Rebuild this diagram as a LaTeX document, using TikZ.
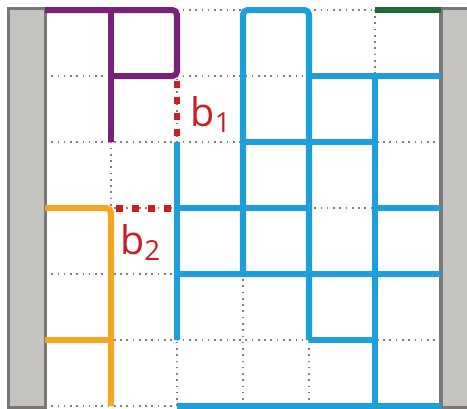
\documentclass[tikz,border=0pt]{standalone}
\usepackage{fontspec}
\setmainfont{Open Sans}
\usepackage{tikz}
\definecolor{wallGrey}{HTML}{C6C4C0}
\definecolor{wallEdge}{HTML}{787878}
\definecolor{lineGrey}{HTML}{808080}
\definecolor{roomPurple}{HTML}{7A1F7C}
\definecolor{roomBlue}{HTML}{1E9FDD}
\definecolor{roomOrange}{HTML}{F5A623}
\definecolor{roomGreen}{HTML}{1D6B35}
\definecolor{gapRed}{HTML}{C81E24}

\begin{document}
\begin{tikzpicture}[font=\fontsize{17}{19}\selectfont,
  gridline/.style={draw=lineGrey, line width=0.7pt, dotted},
  wall/.style={line width=2.6pt, rounded corners=2pt},
  gap/.style={draw=gapRed, line width=3pt, dash pattern=on 3pt off 4pt},
  bar/.style={fill=wallGrey, draw=wallEdge, line width=1.3pt},
  tag/.style={text=gapRed, inner sep=0pt}]

\useasboundingbox (-0.682,-0.03) rectangle (6.394,6.152);

% dotted grid
\foreach \y in {0,...,6}
  \draw[gridline] (0,\y) -- (6,\y);
\foreach \x in {1,...,5}
  \draw[gridline] (\x,0) -- (\x,6);

% side walls
\draw[bar] (-0.55,-0.03) rectangle (0,6.02);
\draw[bar] (6,-0.03) rectangle (6.6,6.02);

% purple
\draw[wall, roomPurple] (0,6) -- (2,6) -- (2,5) -- (1,5);
\draw[wall, roomPurple] (1,6) -- (1,4);

% green
\draw[wall, roomGreen] (5,6) -- (6,6);

% orange
\draw[wall, roomOrange] (0,3) -- (1,3) -- (1,0);
\draw[wall, roomOrange] (0,1) -- (1,1);

% blue
\draw[wall, roomBlue] (2,1) -- (2,4);
\draw[wall, roomBlue] (3,2) -- (3,6) -- (4,6) -- (4,1);
\draw[wall, roomBlue] (5,0) -- (5,5);
\draw[wall, roomBlue] (4,5) -- (6,5);
\draw[wall, roomBlue] (3,4) -- (5,4);
\draw[wall, roomBlue] (2,3) -- (4,3);
\draw[wall, roomBlue] (5,3) -- (6,3);
\draw[wall, roomBlue] (2,2) -- (6,2);
\draw[wall, roomBlue] (4,1) -- (5,1);
\draw[wall, roomBlue] (2,0) -- (6,0);

% gaps
\draw[gap, dash phase=5pt] (2,5) -- (2,4);
\draw[gap, dash phase=5pt] (1,3) -- (2,3);
\node[tag, anchor=west] (b1) at (2.2,4.42) {b\textsubscript{1}};
\node[tag] (b2) at (1.45,2.48) {b\textsubscript{2}};

\end{tikzpicture}
\end{document}
